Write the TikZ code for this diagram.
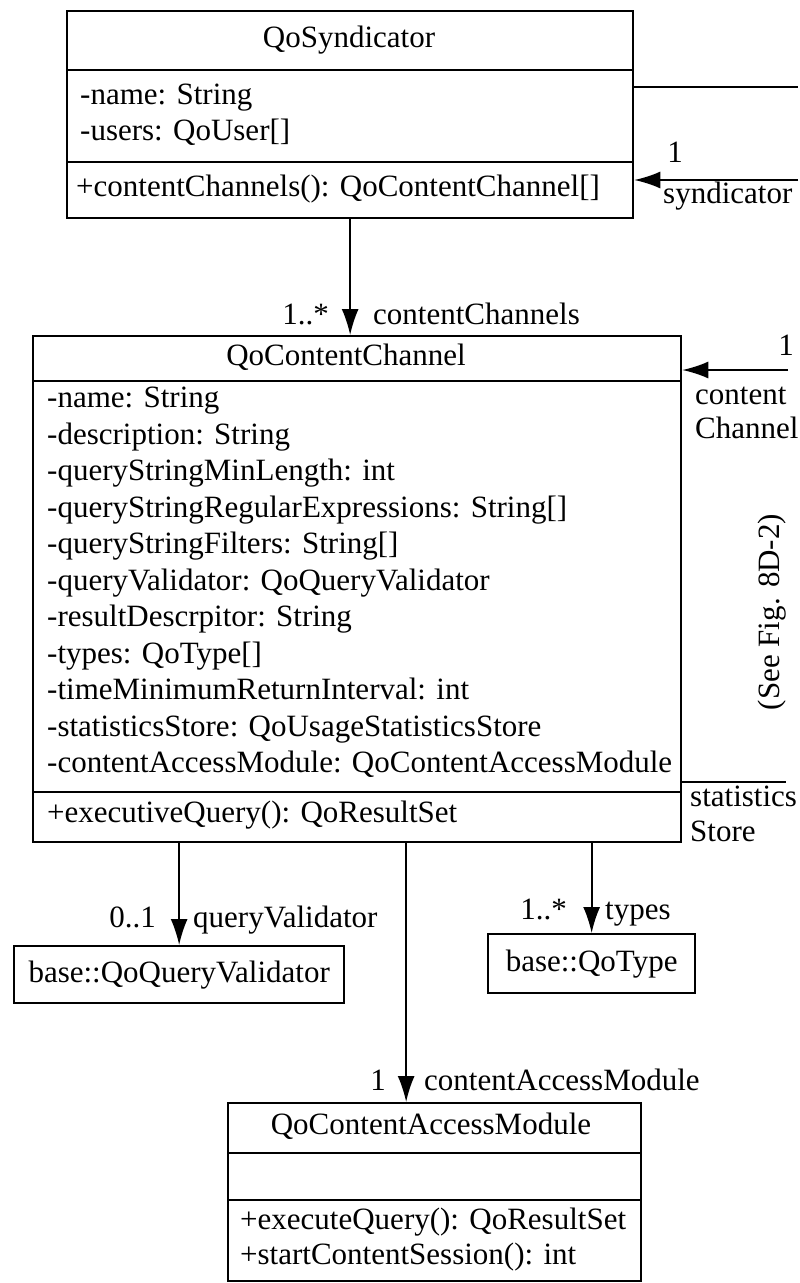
\documentclass[tikz,border=0pt]{standalone}
\usepackage{fontspec}
\setmainfont{Liberation Serif}
\usetikzlibrary{arrows.meta}
\begin{document}
\begin{tikzpicture}[x=1pt,y=-1pt,
  box/.style={draw, line width=2.3pt, inner sep=0pt, anchor=north west},
  rule/.style={line width=2.2pt},
  assoc/.style={line width=1.7pt, -{Latex[length=26pt,width=17pt]}},
  plainline/.style={line width=1.7pt},
  txt/.style={inner sep=0pt, anchor=west, text height=22pt, text depth=7pt,
              font=\fontsize{31}{36}\selectfont},
  ctxt/.style={txt, anchor=center},
  rtxt/.style={txt, anchor=east}
]
\useasboundingbox (0,0) rectangle (800,1283);

% ---------- class boxes ----------
\node[box, minimum width=566pt, minimum height=207pt] (syn) at (66,10) {};
\node[box, minimum width=648pt, minimum height=506pt] (cc)  at (32,335) {};
\node[box, minimum width=330pt, minimum height=57pt]  (qv)  at (13,945) {};
\node[box, minimum width=207pt, minimum height=59pt]  (qt)  at (487,933) {};
\node[box, minimum width=413pt, minimum height=178pt] (cam) at (227,1102) {};

% compartment rules
\draw[rule] ([yshift=-60pt]syn.north west) -- ([yshift=-60pt]syn.north east);
\draw[rule] ([yshift=-152pt]syn.north west) -- ([yshift=-152pt]syn.north east);
\draw[rule] ([yshift=-46pt]cc.north west) -- ([yshift=-46pt]cc.north east);
\draw[rule] ([yshift=-457pt]cc.north west) -- ([yshift=-457pt]cc.north east);
\draw[rule] ([yshift=-51pt]cam.north west) -- ([yshift=-51pt]cam.north east);
\draw[rule] ([yshift=-98pt]cam.north west) -- ([yshift=-98pt]cam.north east);

% ---------- QoSyndicator ----------
\node[ctxt] (synT) at (349,40) {QoSyndicator};
\node[txt] (synA1) at (80,97) {-name: String};
\node[txt] (synA2) at (80,133) {-users: QoUser[]};
\node[txt] (synM1) at (76,189) {+contentChannels(): QoContentChannel[]};

% ---------- QoContentChannel ----------
\node[ctxt] (ccT) at (346,358) {QoContentChannel};
\foreach \t [count=\i] in {
  {-name: String},
  {-description: String},
  {-queryStringMinLength: int},
  {-queryStringRegularExpressions: String[]},
  {-queryStringFilters: String[]},
  {-queryValidator: QoQueryValidator},
  {-resultDescrpitor: String},
  {-types: QoType[]},
  {-timeMinimumReturnInterval: int},
  {-statisticsStore: QoUsageStatisticsStore},
  {-contentAccessModule: QoContentAccessModule}}
  \node[txt] (ccA\i) at (47,{400+(\i-1)*36.5}) {\t};
\node[txt] (ccM1) at (47,815) {+executiveQuery(): QoResultSet};

% ---------- small classes ----------
\node[ctxt] (qvT) at (qv.center) {base::QoQueryValidator};
\node[ctxt] (qtT) at (qt.center) {base::QoType};

% ---------- QoContentAccessModule ----------
\node[ctxt] (camT) at (431,1127) {QoContentAccessModule};
\node[txt] (camM1) at (240,1222) {+executeQuery(): QoResultSet};
\node[txt] (camM2) at (240,1257) {+startContentSession(): int};

% ---------- associations ----------
\coordinate (synOut) at (798,87);
\coordinate (synIn)  at (798,180);
\coordinate (ccIn)   at (788,370);
\coordinate (ccOut)  at (786,782);
\coordinate (camIn)  at ([xshift=-28.5pt]cam.north);

\draw[plainline] (syn.east |- synOut) -- (synOut);
\draw[assoc] (synIn) -- (syn.east |- synIn);
\draw[assoc] (syn.south) -- (syn.south |- cc.north);
\draw[assoc] (ccIn) -- (cc.east |- ccIn);
\draw[plainline] (cc.east |- ccOut) -- (ccOut);
\draw[assoc] (cc.south -| qv.north) -- (qv.north);
\draw[assoc] (cc.south -| qt.north) -- (qt.north);
\draw[assoc] (cc.south -| camIn) -- (camIn);

% ---------- association labels ----------
\node[ctxt] (lSyn1) at (675,155) {1};
\node[txt]  (lSyn)  at (663,196) {syndicator};
\node[rtxt] (lCC1)  at (329,317) {1..*};
\node[txt]  (lCC)   at (373,317) {contentChannels};
\node[ctxt] (lIn1)  at (786,348) {1};
\node[txt]  (lIn2)  at (695,397) {content};
\node[txt]  (lIn3)  at (695,431) {Channel};
\node[ctxt, rotate=90] (see) at (772,612) {(See Fig. 8D-2)};
\node[txt]  (lSt1)  at (690,799) {statistics};
\node[txt]  (lSt2)  at (690,834) {Store};
\node[rtxt] (lQV1)  at (156,920) {0..1};
\node[txt]  (lQV)   at (193,920) {queryValidator};
\node[rtxt] (lQT1)  at (567,912) {1..*};
\node[txt]  (lQT)   at (605,912) {types};
\node[rtxt] (lCAM1) at (386,1083) {1};
\node[txt]  (lCAM)  at (424,1083) {contentAccessModule};
\end{tikzpicture}
\end{document}
